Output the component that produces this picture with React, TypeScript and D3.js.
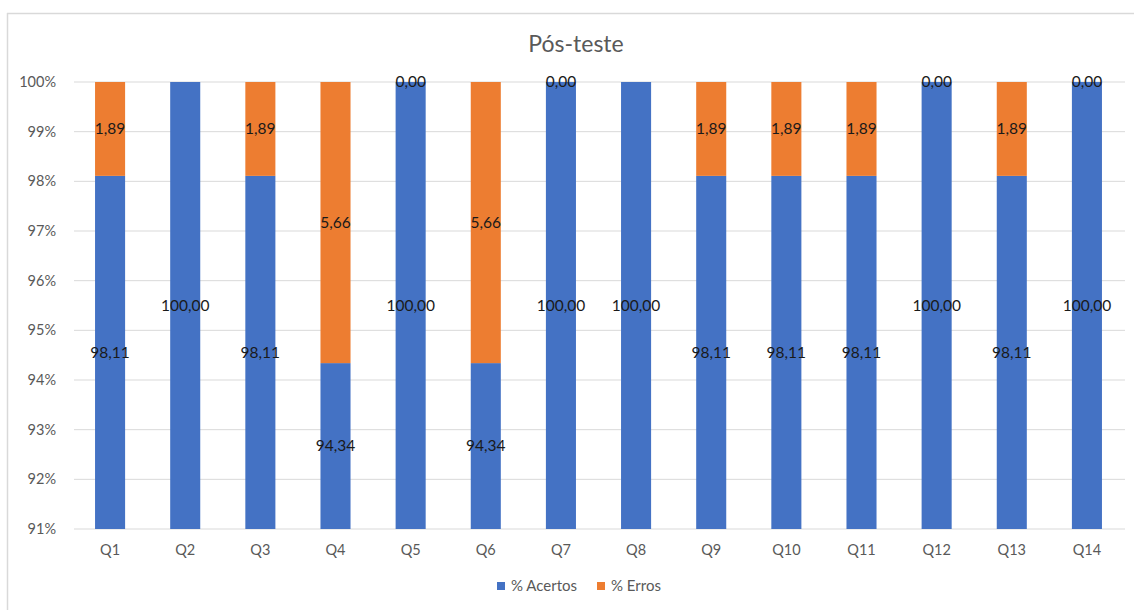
import React from "react";
import * as d3 from "d3";

const categories = ["Q1", "Q2", "Q3", "Q4", "Q5", "Q6", "Q7", "Q8", "Q9", "Q10", "Q11", "Q12", "Q13", "Q14"];
const acertos = [98.11, 100, 98.11, 94.34, 100, 94.34, 100, 100, 98.11, 98.11, 98.11, 100, 98.11, 100];
// null = empty cell (no label drawn)
const erros: (number | null)[] = [1.89, null, 1.89, 5.66, 0, 5.66, 0, null, 1.89, 1.89, 1.89, 0, 1.89, 0];
const yTicks = [91, 92, 93, 94, 95, 96, 97, 98, 99, 100];
const seriesNames = ["% Acertos", "% Erros"];
const colors = ["#4472C4", "#ED7D31"];

const W = 1134;
const H = 610;
const FONT = "Lato, 'Open Sans', sans-serif";

const fmt = (v: number) => v.toFixed(2).replace(".", ",");

export default function App() {
  const left = 72.5;
  const right = 1124.5;
  const top = 82;
  const bottom = 529;
  const yMin = 91;
  const yMax = 100;

  const x = d3.scaleBand<string>().domain(categories).range([left, right]).paddingInner(0.6).paddingOuter(0.3);
  const y = d3.scaleLinear().domain([yMin, yMax]).range([bottom, top]);
  const clampY = (v: number) => y(Math.max(yMin, Math.min(yMax, v)));

  return (
    <svg width={W} height={H} style={{ position: "absolute", left: 0, top: 0, background: "#fff" }}>
      <rect x={0} y={0} width={W} height={H} fill="#fff" />
      {/* chart area frame */}
      <line x1={7.5} y1={13} x2={7.5} y2={H} stroke="#d9d9d9" strokeWidth={1.5} />
      <line x1={7} y1={13.5} x2={W} y2={13.5} stroke="#d9d9d9" strokeWidth={1.5} />

      <text x={576} y={52} textAnchor="middle" fontFamily={FONT} fontSize={23} fill="#595959">
        Pós-teste
      </text>

      {yTicks.map((t) => (
        <g key={t}>
          <line x1={74} x2={1125} y1={y(t)} y2={y(t)} stroke="#d9d9d9" strokeWidth={1} />
          <text x={56} y={y(t)} dy="0.35em" textAnchor="end" fontFamily={FONT} fontSize={14.5} fill="#595959">
            {t}%
          </text>
        </g>
      ))}

      {categories.map((c, i) => {
        const a = acertos[i];
        const e = erros[i];
        const bx = x(c)!;
        const bw = x.bandwidth();
        const cx = bx + bw / 2;
        const aTop = clampY(a);
        const eTop = clampY(a + (e ?? 0));
        return (
          <g key={c}>
            <rect x={bx} y={aTop} width={bw} height={bottom - aTop} fill={colors[0]} />
            {e !== null && e > 0 && (
              <rect x={bx} y={eTop} width={bw} height={aTop - eTop} fill={colors[1]} />
            )}
            <text x={cx} y={(aTop + bottom) / 2} dy="0.35em" textAnchor="middle" fontFamily={FONT} fontSize={15.5} fill="#1a1a1a">
              {fmt(a)}
            </text>
            {e !== null && (
              <text x={cx} y={(eTop + aTop) / 2} dy="0.35em" textAnchor="middle" fontFamily={FONT} fontSize={15.5} fill="#1a1a1a">
                {fmt(e)}
              </text>
            )}
            <text x={cx} y={550} dy="0.35em" textAnchor="middle" fontFamily={FONT} fontSize={14.5} fill="#595959">
              {c}
            </text>
          </g>
        );
      })}

      {/* legend */}
      {seriesNames.map((n, i) => {
        const lx = i === 0 ? 497 : 597;
        return (
          <g key={n}>
            <rect x={lx} y={582} width={8} height={8} fill={colors[i]} />
            <text x={lx + 14} y={586} dy="0.35em" fontFamily={FONT} fontSize={15} fill="#595959">
              {n}
            </text>
          </g>
        );
      })}
    </svg>
  );
}
